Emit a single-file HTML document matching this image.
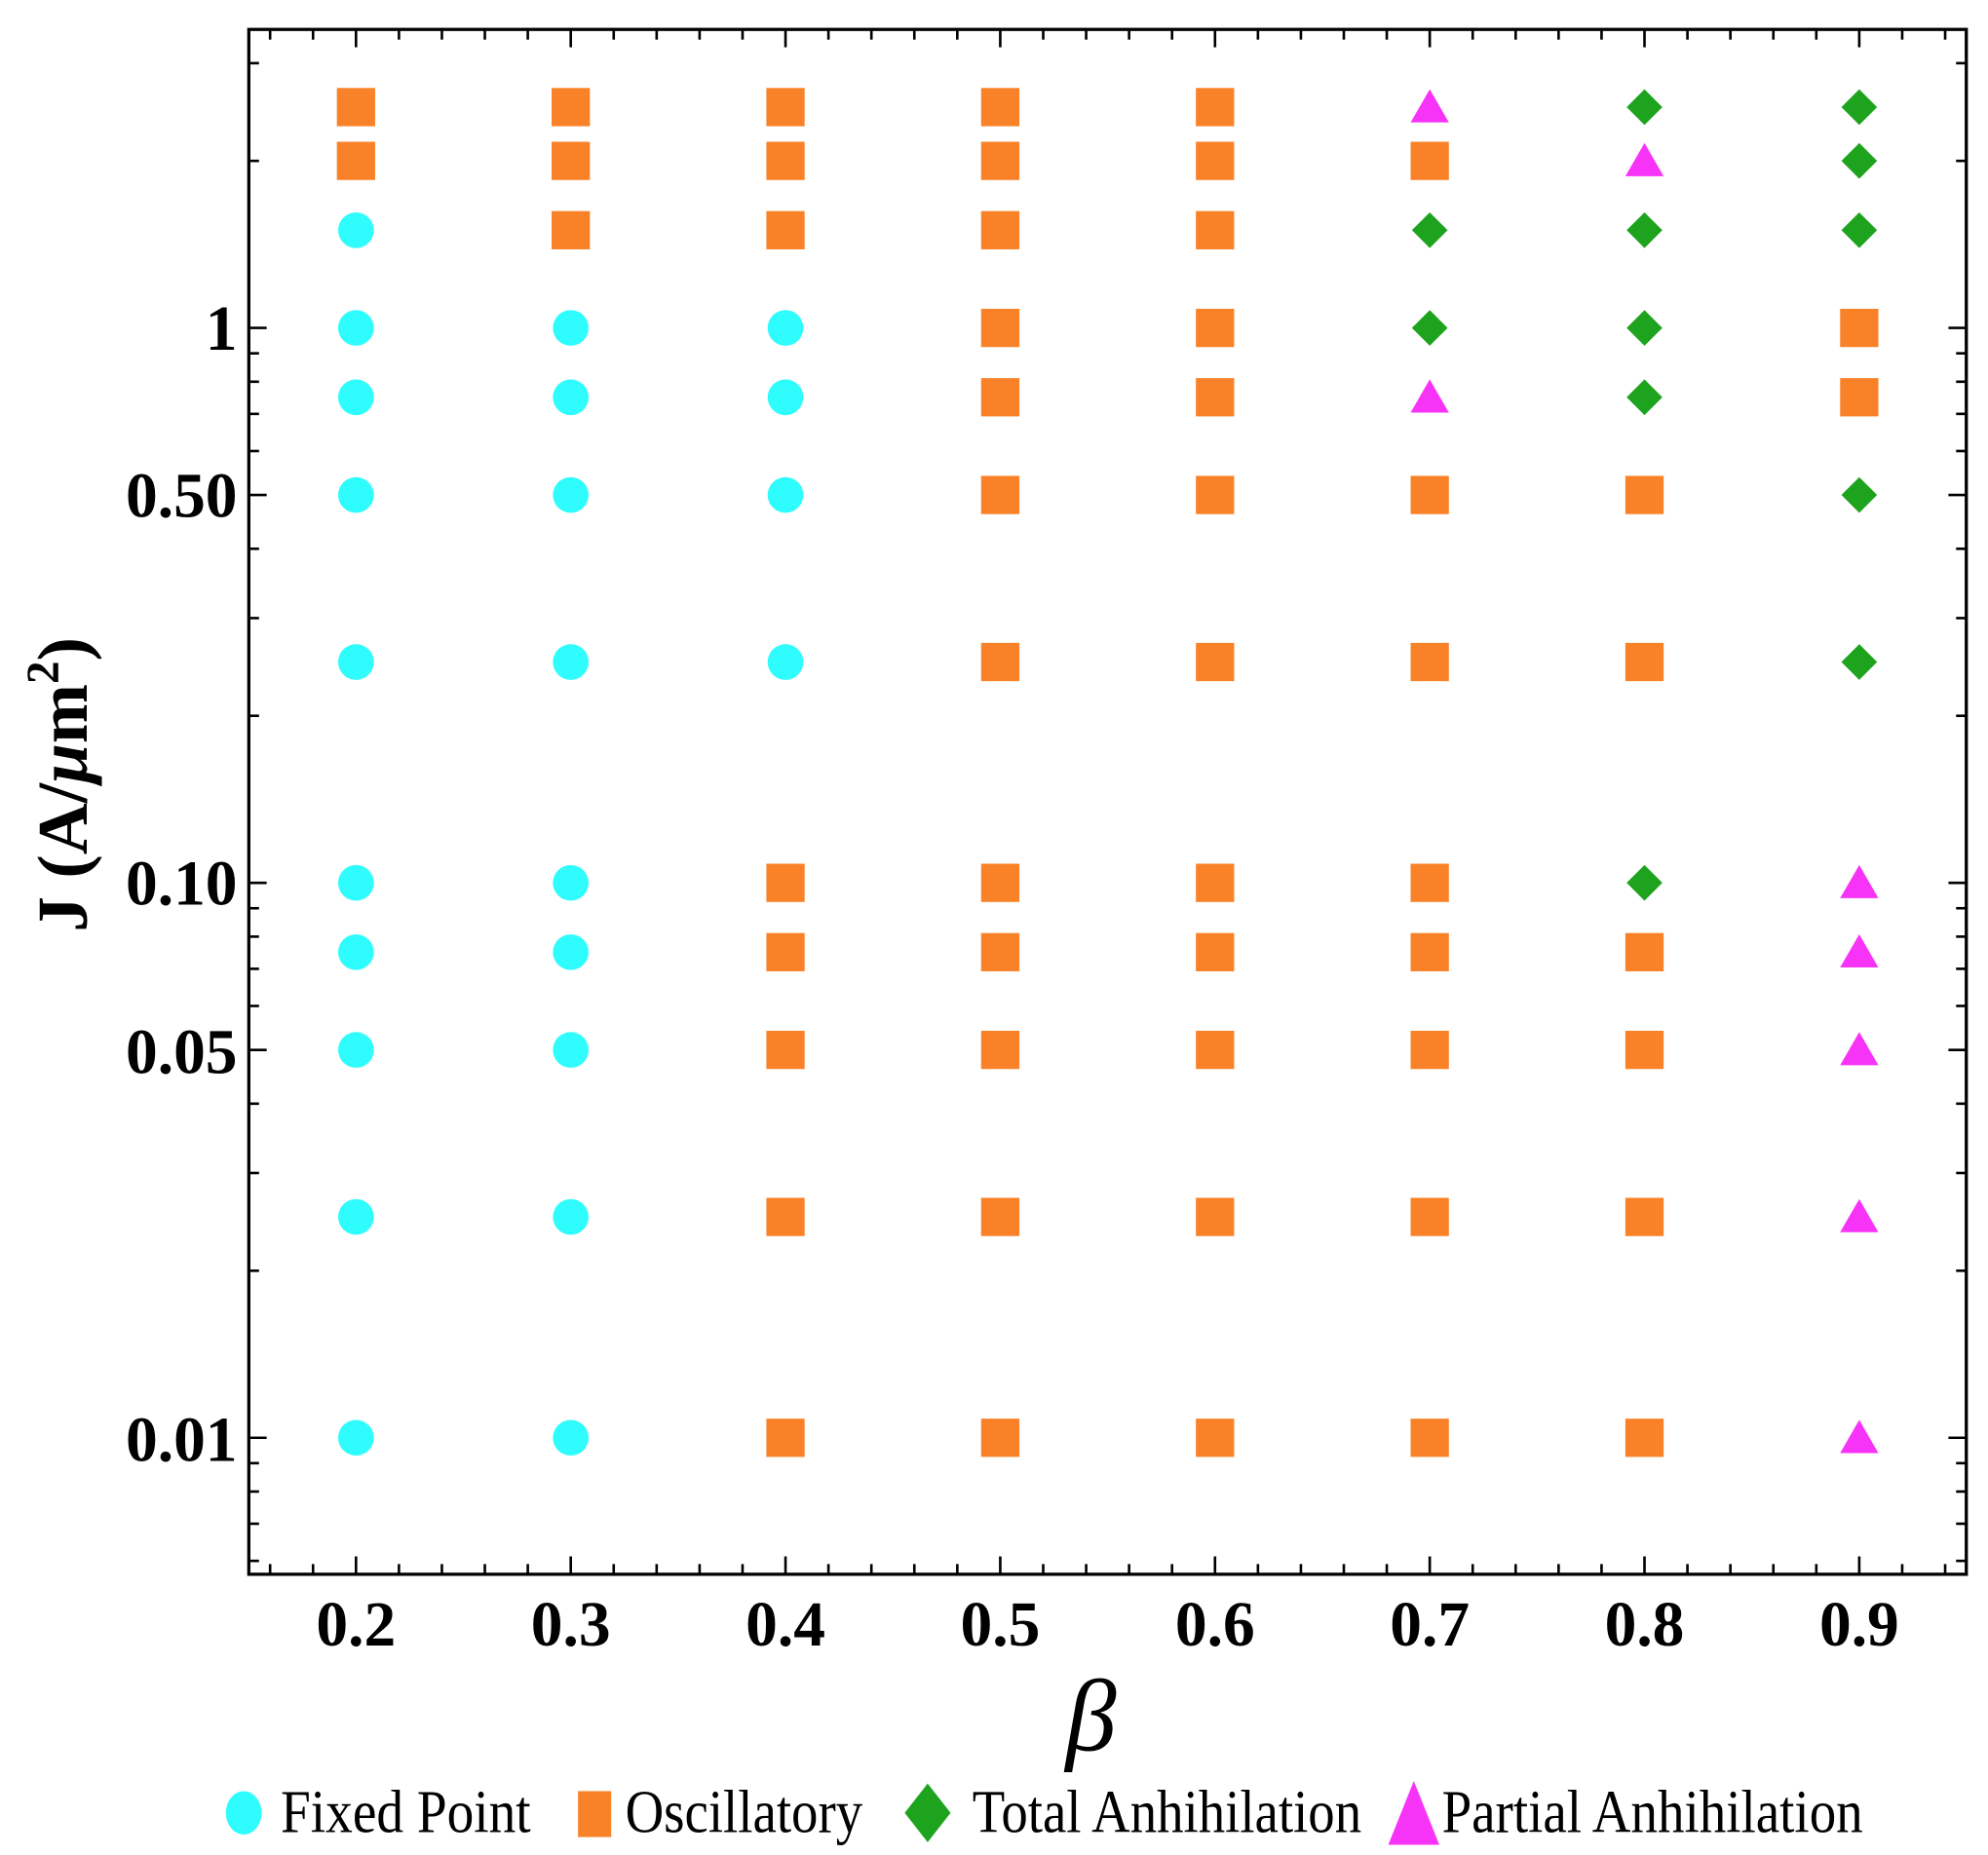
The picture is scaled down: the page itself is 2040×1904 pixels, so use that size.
<!DOCTYPE html>
<html><head><meta charset="utf-8"><style>
html,body{margin:0;padding:0;background:#fff}
svg{display:block}
text{font-family:"Liberation Serif",serif;fill:#000}
.b{font-weight:bold}
.n{font-weight:normal}
</style></head><body>
<svg id="s" width="2040" height="1904" viewBox="0 0 1558 1454" xmlns="http://www.w3.org/2000/svg">
<rect x="195" y="23" width="1346" height="1211" fill="none" stroke="#000" stroke-width="2.5"/>
<g id="ticks" stroke="#000" stroke-width="2"></g>
<g id="pts"></g>
<g font-size="50" text-anchor="end" class="b">
<text class="b" x="186" y="274">1</text>
<text class="b" x="186" y="405">0.50</text>
<text class="b" x="186" y="709">0.10</text>
<text class="b" x="186" y="841">0.05</text>
<text class="b" x="186" y="1145">0.01</text>
</g>
<g font-size="50" text-anchor="middle" id="xl"></g>
<text class="n" x="855" y="1372" font-size="80" font-style="italic" text-anchor="middle">β</text>
<text class="b" transform="translate(68,615) rotate(-90)" font-size="56" text-anchor="middle">J (A/<tspan font-style="italic">μ</tspan>m<tspan font-size="36" dy="-22">2</tspan><tspan dy="22">)</tspan></text>
<g font-size="48">
<ellipse cx="191" cy="1421" rx="14" ry="17" fill="#2ffcfc"/>
<text class="n" x="220" y="1436" textLength="196" lengthAdjust="spacingAndGlyphs">Fixed Point</text>
<rect x="453" y="1404" width="26" height="36" fill="#f98228"/>
<text class="n" x="490" y="1436" textLength="186" lengthAdjust="spacingAndGlyphs">Oscillatory</text>
<polygon points="727,1398 745,1421 727,1444 709,1421" fill="#1ea31e"/>
<text class="n" x="762" y="1436" textLength="305" lengthAdjust="spacingAndGlyphs">Total Anhihilation</text>
<polygon points="1108,1396 1128,1446 1088,1446" fill="#f733f7"/>
<text class="n" x="1130" y="1436" textLength="330" lengthAdjust="spacingAndGlyphs">Partial Anhihilation</text>
</g>
</svg>
<script>
var NS="http://www.w3.org/2000/svg";
function el(p,n,a){var e=document.createElementNS(NS,n);for(var k in a)e.setAttribute(k,a[k]);p.appendChild(e);return e;}
var X=function(b){return 279+(b-0.2)/0.1*168.3;};
var Y=function(j){return 257-435*Math.log10(j);};
var T=document.getElementById('ticks');
var L=195,R=1541,TOP=23,B=1234;
for(var i=-2;i<=41;i++){var b=0.2+i*0.02;var x=X(b);if(x<L+2||x>R-2)continue;var maj=(i%5==0);var l=maj?14:8;
el(T,'line',{x1:x,y1:B,x2:x,y2:B-l});el(T,'line',{x1:x,y1:TOP,x2:x,y2:TOP+l});}
for(var d=-3;d<=1;d++)for(var m=1;m<=9;m++){var j=m*Math.pow(10,d);var y=Y(j);if(y<TOP+2||y>B-2)continue;
var maj=(m==1||m==5);var l=maj?14:8;el(T,'line',{x1:L,y1:y,x2:L+l,y2:y});el(T,'line',{x1:R,y1:y,x2:R-l,y2:y});}
var xl=document.getElementById('xl');
for(var k=0;k<8;k++){var t=el(xl,'text',{x:X(0.2+k*0.1),y:1290,'class':'b'});t.textContent=(0.2+k*0.1).toFixed(1);}
var rows=[[2.5,"OOOOOPTT"],[2,"OOOOOOPT"],[1.5,"FOOOOTTT"],[1,"FFFOOTTO"],[0.75,"FFFOOPTO"],[0.5,"FFFOOOOT"],[0.25,"FFFOOOOT"],[0.1,"FFOOOOTP"],[0.075,"FFOOOOOP"],[0.05,"FFOOOOOP"],[0.025,"FFOOOOOP"],[0.01,"FFOOOOOP"]];
var P=document.getElementById('pts');
rows.forEach(function(r){var y=Y(r[0]);for(var c=0;c<8;c++){var x=X(0.2+c*0.1),t=r[1][c];
if(t=='F')el(P,'circle',{cx:x,cy:y,r:14,fill:'#2ffcfc'});
else if(t=='O')el(P,'rect',{x:x-15,y:y-15,width:30,height:30,fill:'#f98228'});
else if(t=='T')el(P,'polygon',{points:(x)+','+(y-14)+' '+(x+14)+','+y+' '+x+','+(y+14)+' '+(x-14)+','+y,fill:'#1ea31e'});
else el(P,'polygon',{points:x+','+(y-14)+' '+(x+15)+','+(y+12)+' '+(x-15)+','+(y+12),fill:'#f733f7'});}});
</script>
</body></html>
